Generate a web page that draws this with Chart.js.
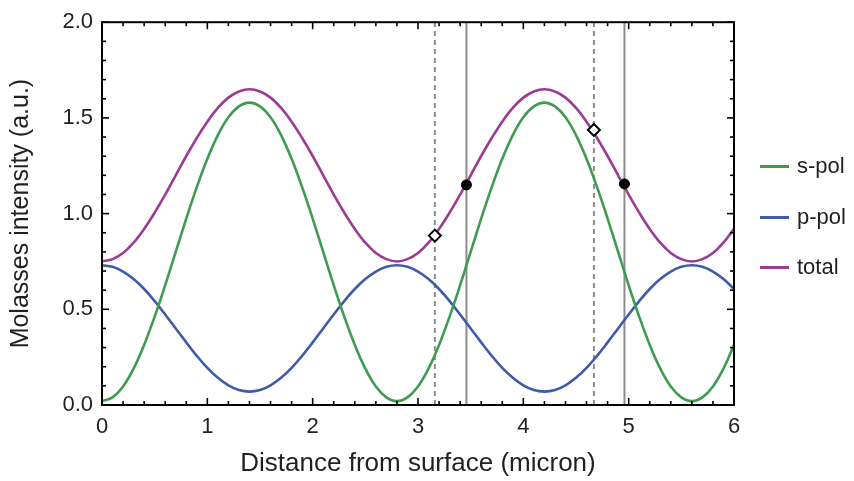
<!DOCTYPE html>
<html><head><meta charset="utf-8">
<script src="https://cdn.jsdelivr.net/npm/chart.js@4/dist/chart.umd.min.js"></script>
<style>
html,body{margin:0;padding:0;background:#fff;}
#wrap{position:relative;width:854px;height:481px;}
canvas{display:block;}
.leg{position:absolute;left:760px;font:22px "Liberation Sans",Arial,sans-serif;color:#231f20;display:flex;align-items:center;height:30px;white-space:nowrap;}
.leg .ln{display:inline-block;width:29px;height:3px;margin-right:8px;}
</style></head>
<body><div id="wrap"><canvas id="c" width="854" height="481"></canvas></div>
<script>
// ---- data ----
const xValues = [0,0.1,0.2,0.3,0.4,0.5,0.6,0.7,0.8,0.9,1,1.1,1.2,1.3,1.4,1.5,1.6,1.7,1.8,1.9,2,2.1,2.2,2.3,2.4,2.5,2.6,2.7,2.8,2.9,3,3.1,3.2,3.3,3.4,3.5,3.6,3.7,3.8,3.9,4,4.1,4.2,4.3,4.4,4.5,4.6,4.7,4.8,4.9,5,5.1,5.2,5.3,5.4,5.5,5.6,5.7,5.8,5.9,6];
const sPol = [0.020,0.040,0.097,0.190,0.314,0.462,0.626,0.800,0.974,1.138,1.286,1.410,1.503,1.560,1.580,
  1.560,1.503,1.410,1.286,1.138,0.974,0.800,0.626,0.462,0.314,0.190,0.097,0.040,0.020,
  0.040,0.097,0.190,0.314,0.462,0.626,0.800,0.974,1.138,1.286,1.410,1.503,1.560,1.580,
  1.560,1.503,1.410,1.286,1.138,0.974,0.800,0.626,0.462,0.314,0.190,0.097,0.040,0.020,
  0.040,0.097,0.190,0.314];
const pPol = [0.730,0.722,0.697,0.658,0.606,0.543,0.473,0.400,0.327,0.257,0.194,0.142,0.103,0.078,0.070,
  0.078,0.103,0.142,0.194,0.257,0.327,0.400,0.473,0.543,0.606,0.658,0.697,0.722,0.730,
  0.722,0.697,0.658,0.606,0.543,0.473,0.400,0.327,0.257,0.194,0.142,0.103,0.078,0.070,
  0.078,0.103,0.142,0.194,0.257,0.327,0.400,0.473,0.543,0.606,0.658,0.697,0.722,0.730,
  0.722,0.697,0.658,0.606];
const total = [0.750,0.762,0.794,0.848,0.920,1.005,1.099,1.200,1.301,1.395,1.480,1.552,1.606,1.638,1.650,
  1.638,1.606,1.552,1.480,1.395,1.301,1.200,1.099,1.005,0.920,0.848,0.794,0.762,0.750,
  0.762,0.794,0.848,0.920,1.005,1.099,1.200,1.301,1.395,1.480,1.552,1.606,1.638,1.650,
  1.638,1.606,1.552,1.480,1.395,1.301,1.200,1.099,1.005,0.920,0.848,0.794,0.762,0.750,
  0.762,0.794,0.848,0.920];
const dashedX = [3.16, 4.67];
const solidX = [3.46, 4.96];
const dotX = [3.46, 4.96];
const dotY = [1.15, 1.155];
const diamondX = [3.16, 4.67];
const diamondY = [0.885, 1.437];
const seriesNames = ['s-pol','p-pol','total'];
const seriesColors = ['#3d9c50','#3d5ba6','#9b3b96'];
const xTickValues = [0,1,2,3,4,5,6];
const yTickValues = [0,0.5,1,1.5,2];

const FONT = '"Liberation Sans", Arial, sans-serif';
const TXT = '#231f20';

const pts = arr => arr.map((v,i)=>({x:xValues[i], y:v}));
const vline = x => [{x:x,y:0},{x:x,y:2}];

const datasets = [];
datasets.push({label:'dots', data: dotX.map((x,i)=>({x, y:dotY[i]})), showLine:false,
  pointRadius:5, pointBackgroundColor:'#000', pointBorderColor:'#000', pointBorderWidth:1});
datasets.push({label:'diamonds', data: diamondX.map((x,i)=>({x, y:diamondY[i]})), showLine:false,
  pointStyle:'rectRot', pointRadius:6, pointBackgroundColor:'#fff', pointBorderColor:'#000', pointBorderWidth:2});
[sPol,pPol,total].forEach((arr,i)=>{
  datasets.push({label:seriesNames[i], data:pts(arr), borderColor:seriesColors[i], borderWidth:2.6,
    pointRadius:0, tension:0.4, fill:false});
});
solidX.forEach(x=>datasets.push({label:'solid', data:vline(x), borderColor:'#8c8c8c', borderWidth:2, pointRadius:0}));
dashedX.forEach(x=>datasets.push({label:'dashed', data:vline(x), borderColor:'#8c8c8c', borderWidth:2, borderDash:[5,4], pointRadius:0}));

const frameTicks = {
  id:'frameTicks',
  afterDatasetsDraw(chart){
    const {ctx, chartArea:a, scales:{x,y}} = chart;
    ctx.save();
    ctx.strokeStyle='#000';
    ctx.lineWidth=1.6;
    const seg=(x1,y1,x2,y2)=>{ctx.beginPath();ctx.moveTo(x1,y1);ctx.lineTo(x2,y2);ctx.stroke();};
    for(let i=0;i<=30;i++){
      const px=x.getPixelForValue(i*0.2); const len=(i%5===0)?7:4;
      seg(px,a.bottom,px,a.bottom-len); seg(px,a.top,px,a.top+len);
    }
    for(let i=0;i<=20;i++){
      const py=y.getPixelForValue(i*0.1); const len=(i%5===0)?7:4;
      seg(a.left,py,a.left+len,py); seg(a.right,py,a.right-len,py);
    }
    ctx.lineWidth=2;
    ctx.strokeRect(a.left,a.top,a.right-a.left,a.bottom-a.top);
    ctx.restore();
  }
};

new Chart(document.getElementById('c'), {
  type:'line',
  data:{datasets},
  options:{
    responsive:false, animation:false, devicePixelRatio:1,
    layout:{padding:{top:15,right:120,bottom:0,left:0}},
    plugins:{legend:{display:false}, tooltip:{enabled:false}},
    scales:{
      x:{type:'linear', min:0, max:6,
        afterFit(s){s.height=76;},
        afterBuildTicks(s){s.ticks=xTickValues.map(v=>({value:v}));},
        grid:{display:false, drawTicks:false}, border:{display:false},
        ticks:{font:{size:22,family:FONT}, color:TXT, padding:9, maxRotation:0, callback:v=>String(v)},
        title:{display:true, text:'Distance from surface (micron)', color:TXT, font:{size:26,family:FONT}, padding:{top:0,bottom:2}}},
      y:{type:'linear', min:0, max:2,
        afterFit(s){s.width=102;},
        afterBuildTicks(s){s.ticks=yTickValues.map(v=>({value:v}));},
        grid:{display:false, drawTicks:false}, border:{display:false},
        ticks:{font:{size:22,family:FONT}, color:TXT, padding:9, callback:v=>Number(v).toFixed(1)},
        title:{display:true, text:'Molasses intensity (a.u.)', color:TXT, font:{size:25,family:FONT}, padding:{top:6,bottom:0}}}
    }
  },
  plugins:[frameTicks]
});

// legend
const wrap=document.getElementById('wrap');
const legTops=[151,202,252];
seriesNames.forEach((n,i)=>{
  const d=document.createElement('div'); d.className='leg'; d.style.top=legTops[i]+'px';
  const l=document.createElement('span'); l.className='ln'; l.style.background=seriesColors[i];
  d.appendChild(l); d.appendChild(document.createTextNode(n)); wrap.appendChild(d);
});
</script>
</body></html>
